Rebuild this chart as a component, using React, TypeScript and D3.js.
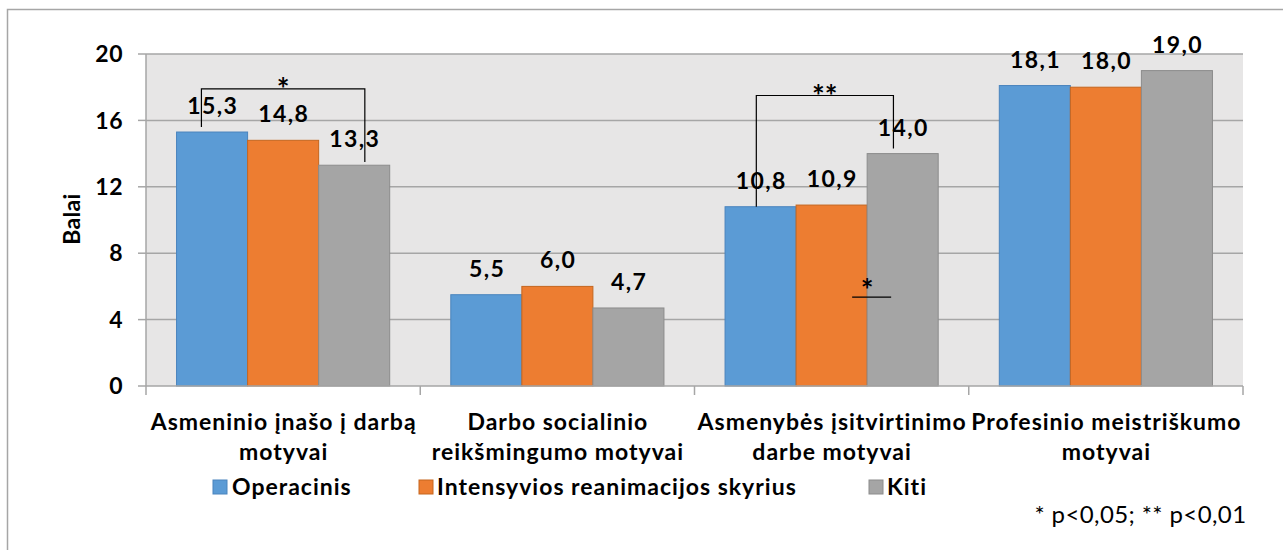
import React from "react";
import * as d3 from "d3";

const categories = [
  ["Asmeninio įnašo į darbą", "motyvai"],
  ["Darbo socialinio", "reikšmingumo motyvai"],
  ["Asmenybės įsitvirtinimo", "darbe motyvai"],
  ["Profesinio meistriškumo", "motyvai"],
];
const seriesNames = ["Operacinis", "Intensyvios reanimacijos skyrius", "Kiti"];
const operacinis = [15.3, 5.5, 10.8, 18.1];
const intensyvios = [14.8, 6.0, 10.9, 18.0];
const kiti = [13.3, 4.7, 14.0, 19.0];
const yTicks = [0, 4, 8, 12, 16, 20];
const yLabel = "Balai";
const footnote = "* p<0,05; ** p<0,01";

// significance brackets: category index, from series, to series, y values
const brackets = [
  { cat: 0, from: 0, to: 2, top: 17.9, fromEnd: 15.6, toEnd: 13.5, label: "*", dxFrom: -0.15, dxTo: 0.15 },
  { cat: 2, from: 0, to: 2, top: 17.5, fromEnd: 10.8, toEnd: 14.3, label: "**", dxFrom: -0.06, dxTo: -0.13 },
];
const underlines = [{ cat: 2, at: 2, value: 5.35, label: "*" }];

const colors = ["#5b9bd5", "#ed7d31", "#a5a5a5"];
const strokes = ["#4a84bd", "#c5661f", "#8c8c8c"];
const FONT = "Lato, Carlito, Calibri, sans-serif";

export default function App() {
  const W = 1283, H = 550;
  const left = 146, right = 1243, top = 54, bottom = 386;
  const values = [operacinis, intensyvios, kiti];
  const x = d3.scaleBand<number>().domain(d3.range(categories.length)).range([left, right]);
  const xs = d3.scaleBand<number>().domain(d3.range(seriesNames.length)).range([0, x.bandwidth()]).paddingOuter(0.43);
  const y = d3.scaleLinear().domain([0, 20]).range([bottom, top]);
  const bw = xs.bandwidth();
  const cx = (c: number, s: number) => (x(c) as number) + (xs(s) as number) + bw / 2;

  const legendItems = [
    { sq: 213, tx: 232 },
    { sq: 419, tx: 437 },
    { sq: 869, tx: 887 },
  ];

  return (
    <svg width={W} height={H} style={{ position: "absolute", left: 0, top: 0 }} fontFamily={FONT}>
      <rect x={0} y={0} width={W} height={H} fill="#fff" />
      <path d={`M7.5,${H + 5}V9.5H${W + 5}`} fill="none" stroke="#a6a6a6" strokeWidth={1.5} />
      <rect x={left} y={top} width={right - left} height={bottom - top} fill="#e7e6e6" />
      {yTicks.map((t) => (
        <g key={t}>
          {t > 0 && <line x1={left} x2={right} y1={y(t)} y2={y(t)} stroke="#a6a6a6" strokeWidth={1.5} />}
          <line x1={left - 8} x2={left} y1={y(t)} y2={y(t)} stroke="#a6a6a6" strokeWidth={1.5} />
          <text x={123.5} y={y(t)} dy="0.36em" textAnchor="end" fontWeight="bold" fontSize={23} letterSpacing={0.8} fill="#000">
            {t}
          </text>
        </g>
      ))}
      <line x1={left} x2={left} y1={top} y2={bottom} stroke="#a6a6a6" strokeWidth={1.5} />
      {values.map((vals, s) =>
        vals.map((v, c) => (
          <rect
            key={`${s}-${c}`}
            x={(x(c) as number) + (xs(s) as number)}
            y={y(v)}
            width={bw}
            height={bottom - y(v)}
            fill={colors[s]}
            stroke={strokes[s]}
            strokeWidth={1}
          />
        ))
      )}
      <line x1={left} x2={right} y1={bottom} y2={bottom} stroke="#a6a6a6" strokeWidth={1.5} />
      {d3.range(categories.length + 1).map((i) => {
        const xx = i < categories.length ? (x(i) as number) : right;
        return <line key={i} x1={xx} x2={xx} y1={bottom} y2={bottom + 9} stroke="#a6a6a6" strokeWidth={1.5} />;
      })}
      {values.map((vals, s) =>
        vals.map((v, c) => (
          <text key={`l${s}-${c}`} x={cx(c, s) + 0.7} y={y(v) - 18} textAnchor="middle" fontWeight="bold" fontSize={23} letterSpacing={1.4} fill="#000">
            {v.toFixed(1).replace(".", ",")}
          </text>
        ))
      )}
      {brackets.map((b, i) => {
        const x1 = cx(b.cat, b.from) + b.dxFrom * bw;
        const x2 = cx(b.cat, b.to) + b.dxTo * bw;
        return (
          <g key={i}>
            <path d={`M${x1},${y(b.fromEnd)}V${y(b.top)}H${x2}V${y(b.toEnd)}`} fill="none" stroke="#000" strokeWidth={1.2} />
            <text x={(x1 + x2) / 2} y={y(b.top) + 11} textAnchor="middle" fontWeight="bold" fontSize={30} fill="#000">
              {b.label}
            </text>
          </g>
        );
      })}
      {underlines.map((u, i) => {
        const xm = (x(u.cat) as number) + (xs(0) as number) + u.at * bw;
        return (
          <g key={i}>
            <line x1={xm - 15} x2={xm + 24} y1={y(u.value)} y2={y(u.value)} stroke="#000" strokeWidth={1.2} />
            <text x={xm} y={y(u.value) + 4} textAnchor="middle" fontWeight="bold" fontSize={30} fill="#000">
              {u.label}
            </text>
          </g>
        );
      })}
      {categories.map((lines, c) => (
        <text key={c} textAnchor="middle" fontWeight="bold" fontSize={23} letterSpacing={1.0} fill="#000">
          {lines.map((ln, j) => (
            <tspan key={j} x={(x(c) as number) + x.bandwidth() / 2 + 0.5} y={430 + j * 30}>
              {ln}
            </tspan>
          ))}
        </text>
      ))}
      <text transform={`translate(80,219) rotate(-90)`} textAnchor="middle" fontWeight="bold" fontSize={23} letterSpacing={0.3} fill="#000">
        {yLabel}
      </text>
      {seriesNames.map((n, s) => (
        <g key={n}>
          <rect x={legendItems[s].sq} y={480} width={14} height={14} fill={colors[s]} stroke={strokes[s]} strokeWidth={1} />
          <text x={legendItems[s].tx} y={495} fontWeight="bold" fontSize={23} letterSpacing={1.0} fill="#000">
            {n}
          </text>
        </g>
      ))}
      <text x={1246.5} y={523} textAnchor="end" fontSize={24} letterSpacing={0.4} fill="#000">
        {footnote}
      </text>
    </svg>
  );
}
